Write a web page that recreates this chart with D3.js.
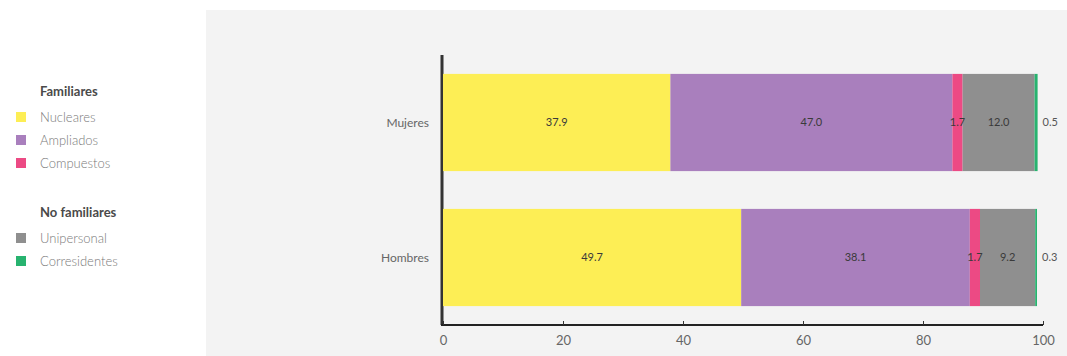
<!DOCTYPE html>
<html>
<head>
<meta charset="utf-8">
<script src="https://cdn.jsdelivr.net/npm/d3@7"></script>
<style>
  html, body { margin: 0; padding: 0; background: #ffffff; }
  svg { display: block; font-family: Lato, "Open Sans", sans-serif; }
</style>
</head>
<body>
<svg id="chart" width="1067" height="356"></svg>
<script>
// Household types by sex of head (%)
const categories = ["Mujeres", "Hombres"];
const seriesNames = ["Nucleares", "Ampliados", "Compuestos", "Unipersonal", "Corresidentes"];
const nucleares = [37.9, 49.7];
const ampliados = [47.0, 38.1];
const compuestos = [1.7, 1.7];
const unipersonal = [12.0, 9.2];
const corresidentes = [0.5, 0.3];
const xTicks = [0, 20, 40, 60, 80, 100];
const colors = ["#fdee55", "#a97fbd", "#ec4a84", "#8f8f8f", "#27b36f"];
const legendGroups = [
  { title: "Familiares", items: [0, 1, 2] },
  { title: "No familiares", items: [3, 4] }
];

const seriesValues = [nucleares, ampliados, compuestos, unipersonal, corresidentes];
const rows = categories.map((c, i) => {
  const row = { cat: c };
  seriesNames.forEach((s, j) => { row[s] = seriesValues[j][i]; });
  return row;
});

const svg = d3.select("#chart");

// panel background
svg.append("rect")
  .attr("x", 206).attr("y", 10)
  .attr("width", 1067 - 206).attr("height", 356 - 10)
  .attr("fill", "#f3f3f3");

const x = d3.scaleLinear().domain([0, 100]).range([443, 1043]);
const y = d3.scaleBand().domain(categories).range([55, 325]).padding(0);
const barH = y.bandwidth() * 0.72;
const barOff = (y.bandwidth() - barH) / 2;

// y axis line
svg.append("line")
  .attr("x1", x(0) - 1).attr("x2", x(0) - 1)
  .attr("y1", y.range()[0]).attr("y2", y.range()[1])
  .attr("stroke", "#333").attr("stroke-width", 3);

const stack = d3.stack().keys(seriesNames);
const stacked = stack(rows);

const layers = svg.append("g").selectAll("g")
  .data(stacked)
  .join("g")
  .attr("fill", (d, i) => colors[i]);

layers.selectAll("rect")
  .data(d => d)
  .join("rect")
  .attr("x", d => x(d[0]))
  .attr("width", d => x(d[1]) - x(d[0]))
  .attr("y", d => y(d.data.cat) + barOff)
  .attr("height", barH);

// value labels
stacked.forEach((layer, i) => {
  const last = i === stacked.length - 1;
  svg.append("g").selectAll("text")
    .data(layer)
    .join("text")
    .attr("x", d => last ? x(d[1]) + 5 : (x(d[0]) + x(d[1])) / 2)
    .attr("y", d => y(d.data.cat) + y.bandwidth() / 2)
    .attr("dy", "0.35em")
    .attr("text-anchor", last ? "start" : "middle")
    .attr("font-size", 11)
    .attr("fill", last ? "#555" : "#3a3a3a")
    .text(d => d3.format(".1f")(d[1] - d[0]));
});

// x axis
const xAxis = svg.append("g")
  .attr("transform", `translate(0,${y.range()[1]})`)
  .call(d3.axisBottom(x).tickValues(xTicks).tickSize(-4).tickPadding(11).tickFormat(d3.format("d")));
xAxis.select(".domain").attr("stroke", "#222").attr("stroke-width", 2).attr("d", `M${x(0) - 2},0H${x(100)}`);
xAxis.selectAll(".tick line").attr("stroke", "#333");
xAxis.selectAll(".tick text").attr("font-size", 13).attr("fill", "#666").attr("font-family", "Lato, sans-serif");

// category labels
svg.append("g").selectAll("text")
  .data(categories)
  .join("text")
  .attr("x", 429)
  .attr("y", d => y(d) + y.bandwidth() / 2)
  .attr("dy", "0.35em")
  .attr("text-anchor", "end")
  .attr("font-size", 12)
  .attr("fill", "#666")
  .text(d => d);

// legend
const legend = svg.append("g");
let ly = 91;
legendGroups.forEach((g, gi) => {
  legend.append("text")
    .attr("x", 40).attr("y", ly).attr("dy", "0.35em")
    .attr("font-size", 13).attr("font-weight", 700).attr("fill", "#4a4a4a")
    .text(g.title);
  ly += 26;
  g.items.forEach(k => {
    legend.append("rect")
      .attr("x", 16).attr("y", ly - 5).attr("width", 10).attr("height", 10)
      .attr("fill", colors[k]);
    legend.append("text")
      .attr("x", 40).attr("y", ly).attr("dy", "0.35em")
      .attr("font-size", 13).attr("font-weight", 300).attr("fill", "#7a7a7a")
      .text(seriesNames[k]);
    ly += 23;
  });
  ly += 26;
});
</script>
</body>
</html>
